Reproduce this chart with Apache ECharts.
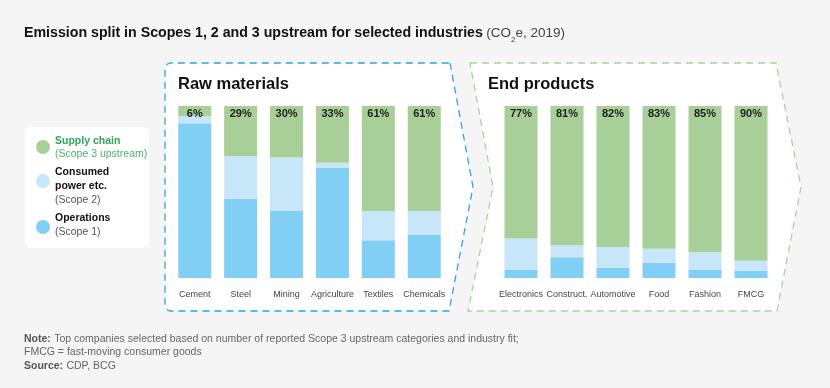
<!DOCTYPE html>
<html>
<head>
<meta charset="utf-8">
<script src="https://cdn.jsdelivr.net/npm/echarts@6/dist/echarts.min.js"></script>
<style>
html,body{margin:0;padding:0;background:#f5f5f5;}
#chart{width:830px;height:388px;}
</style>
</head>
<body>
<div id="chart"></div>
<script>
// ---- data ----
var categoriesRaw = ['Cement', 'Steel', 'Mining', 'Agriculture', 'Textiles', 'Chemicals'];
var scope3Raw = [6, 29, 30, 33, 61, 61];
var scope2Raw = [4, 25, 31, 3, 17, 14];
var scope1Raw = [90, 46, 39, 64, 22, 25];

var categoriesEnd = ['Electronics', 'Construct.', 'Automotive', 'Food', 'Fashion', 'FMCG'];
var scope3End = [77, 81, 82, 83, 85, 90];
var scope2End = [18, 7, 12, 8, 10, 6];
var scope1End = [5, 12, 6, 9, 5, 4];

// ---- styles ----
var FONT = '"Liberation Sans", Arial, Helvetica, sans-serif';
var C_GREEN = '#a7cf97';
var C_LIGHT = '#c8e6f9';
var C_BLUE = '#82cff5';

var chart = echarts.init(document.getElementById('chart'));

function xAxis(cats, gi) {
  return {
    type: 'category', gridIndex: gi, data: cats,
    axisLine: {show: false}, axisTick: {show: false},
    axisLabel: {color: '#444', fontSize: 9, fontFamily: FONT, margin: 12, interval: 0}
  };
}
function yAxis(gi) {
  return {type: 'value', gridIndex: gi, min: 0, max: 100, show: false, splitLine: {show: false}};
}
function bar(name, data, color, gi, withLabel) {
  var s = {
    name: name, type: 'bar', stack: 'g' + gi, xAxisIndex: gi, yAxisIndex: gi,
    data: data, barWidth: 33, itemStyle: {color: color}, silent: true
  };
  if (withLabel) {
    s.label = {show: true, position: 'insideTop', distance: 2, formatter: '{c}%',
      color: '#222', fontSize: 11, fontWeight: 'bold', fontFamily: FONT};
  }
  return s;
}

// rounded-left panel outline (decoration)
function arcPts(cx, cy, r, a0, a1) {
  var p = [];
  for (var i = 0; i <= 6; i++) {
    var a = a0 + (a1 - a0) * i / 6;
    p.push([cx + r * Math.cos(a), cy + r * Math.sin(a)]);
  }
  return p;
}
var rawPanel = [[450, 63], [473, 187], [449, 311]]
  .concat(arcPts(171, 305, 6, Math.PI / 2, Math.PI))
  .concat(arcPts(171, 69, 6, Math.PI, Math.PI * 1.5));
var endPanel = [[470, 63], [776, 63], [801, 187], [777, 311], [468, 311], [493, 187]];

var option = {
  backgroundColor: '#f5f5f5',
  animation: false,
  textStyle: {fontFamily: FONT},
  grid: [
    {left: 171.8, top: 106, width: 275.4, height: 172},
    {left: 498, top: 106, width: 276, height: 172}
  ],
  xAxis: [xAxis(categoriesRaw, 0), xAxis(categoriesEnd, 1)],
  yAxis: [yAxis(0), yAxis(1)],
  series: [
    bar('Operations (Scope 1)', scope1Raw, C_BLUE, 0, false),
    bar('Consumed power etc. (Scope 2)', scope2Raw, C_LIGHT, 0, false),
    bar('Supply chain (Scope 3 upstream)', scope3Raw, C_GREEN, 0, true),
    bar('Operations (Scope 1)', scope1End, C_BLUE, 1, false),
    bar('Consumed power etc. (Scope 2)', scope2End, C_LIGHT, 1, false),
    bar('Supply chain (Scope 3 upstream)', scope3End, C_GREEN, 1, true)
  ],
  graphic: [
    {type: 'polygon', z: -10, shape: {points: rawPanel},
      style: {fill: '#ffffff', stroke: '#2aa7e6', lineWidth: 1.3, lineDash: [7, 5]}},
    {type: 'polygon', z: -10, shape: {points: endPanel},
      style: {fill: '#ffffff', stroke: '#aad49c', lineWidth: 1.3, lineDash: [7, 5]}},
    {type: 'text', left: 178, top: 76, style: {text: 'Raw materials', font: 'bold 16.5px ' + FONT, fill: '#111'}},
    {type: 'text', left: 488, top: 76, style: {text: 'End products', font: 'bold 16.5px ' + FONT, fill: '#111'}},
    {type: 'text', left: 24, top: 26, style: {
      text: '{b|Emission split in Scopes 1, 2 and 3 upstream for selected industries} {n|(CO}{s|2}{n|e, 2019)}',
      rich: {
        b: {fontFamily: FONT, fontSize: 14.2, fontWeight: 'bold', fill: '#111', lineHeight: 17, verticalAlign: 'bottom'},
        n: {fontFamily: FONT, fontSize: 13.5, fill: '#444', lineHeight: 17, verticalAlign: 'bottom'},
        s: {fontFamily: FONT, fontSize: 8, fill: '#444', lineHeight: 17, verticalAlign: 'bottom', padding: [0, 0, -3, 0]}
      }
    }},
    {type: 'rect', shape: {x: 25, y: 127, width: 124, height: 121, r: 6}, style: {fill: '#ffffff'}},
    {type: 'circle', shape: {cx: 43, cy: 147, r: 7}, style: {fill: C_GREEN}},
    {type: 'circle', shape: {cx: 43, cy: 181, r: 7}, style: {fill: C_LIGHT}},
    {type: 'circle', shape: {cx: 43, cy: 227, r: 7}, style: {fill: C_BLUE}},
    {type: 'text', left: 55, top: 136, style: {
      text: '{b|Supply chain}\n{n|(Scope 3 upstream)}',
      rich: {
        b: {fontFamily: FONT, fontSize: 10.5, fontWeight: 'bold', fill: '#2fa55c', lineHeight: 13},
        n: {fontFamily: FONT, fontSize: 10.5, fill: '#4bb46e', lineHeight: 13}
      }
    }},
    {type: 'text', left: 55, top: 167, style: {
      text: '{b|Consumed}\n{b|power etc.}\n{n|(Scope 2)}',
      rich: {
        b: {fontFamily: FONT, fontSize: 10.5, fontWeight: 'bold', fill: '#111', lineHeight: 14},
        n: {fontFamily: FONT, fontSize: 10.5, fill: '#555', lineHeight: 14}
      }
    }},
    {type: 'text', left: 55, top: 213, style: {
      text: '{b|Operations}\n{n|(Scope 1)}',
      rich: {
        b: {fontFamily: FONT, fontSize: 10.5, fontWeight: 'bold', fill: '#111', lineHeight: 14},
        n: {fontFamily: FONT, fontSize: 10.5, fill: '#555', lineHeight: 14}
      }
    }},
    {type: 'text', left: 24, top: 333, style: {
      text: '{b|Note:} {n|Top companies selected based on number of reported Scope 3 upstream categories and industry fit;}\n{n|FMCG = fast-moving consumer goods}\n{b|Source:} {n|CDP, BCG}',
      rich: {
        b: {fontFamily: FONT, fontSize: 10.5, fontWeight: 'bold', fill: '#555', lineHeight: 13.5},
        n: {fontFamily: FONT, fontSize: 10.5, fill: '#666', lineHeight: 13.5}
      }
    }}
  ]
};
chart.setOption(option);
</script>
</body>
</html>
